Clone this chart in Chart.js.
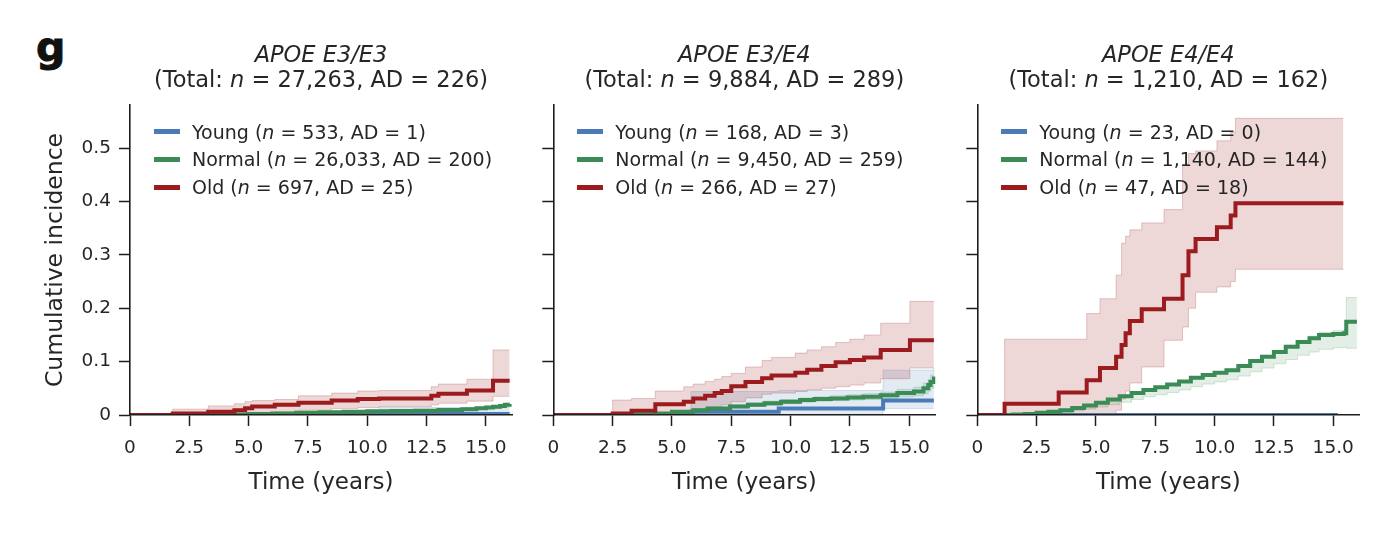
<!DOCTYPE html>
<html><head><meta charset="utf-8">
<script src="https://cdn.jsdelivr.net/npm/chart.js@4.4.1/dist/chart.umd.min.js"></script>
<style>
html,body{margin:0;padding:0;background:#fff;width:1386px;height:538px;overflow:hidden;font-family:"DejaVu Sans",sans-serif;color:#262626}
canvas{position:absolute;left:0;top:0}
.t{position:absolute;text-align:center;white-space:nowrap;font-size:22.5px;line-height:22.5px;width:500px}
.lg{position:absolute;white-space:nowrap;font-size:19px;line-height:19px}
.sw{position:absolute;width:26px;height:5px}
.g{position:absolute;left:36px;top:27px;font-weight:bold;font-size:41px;line-height:41px;color:#111;-webkit-text-stroke:1px #111}
</style></head><body>
<div class="g">g</div>
<canvas id="c1" width="1386" height="538"></canvas>
<canvas id="c2" width="1386" height="538"></canvas>
<canvas id="c3" width="1386" height="538"></canvas>
<div id="txt"></div>
<script>
// ---------- tick labels ----------
const xTickValues = [0, 2.5, 5, 7.5, 10, 12.5, 15];
const xTickLabels = ['0', '2.5', '5.0', '7.5', '10.0', '12.5', '15.0'];
const yTickValues = [0, 0.1, 0.2, 0.3, 0.4, 0.5];
const yTickLabels = ['0', '0.1', '0.2', '0.3', '0.4', '0.5'];
const groupNames = ['Young', 'Normal', 'Old'];
const panelTitles = ['APOE E3/E3', 'APOE E3/E4', 'APOE E4/E4'];
const panelTotalN = ['27,263', '9,884', '1,210'];
const panelTotalAD = ['226', '289', '162'];
const e33GroupN = ['533', '26,033', '697'];
const e33GroupAD = ['1', '200', '25'];
const e34GroupN = ['168', '9,450', '266'];
const e34GroupAD = ['3', '259', '27'];
const e44GroupN = ['23', '1,140', '47'];
const e44GroupAD = ['0', '144', '18'];

// ---------- APOE E3/E3 ----------
const e33OldT  = [0, 1.8, 3.3, 4.4, 4.85, 5.15, 6.1, 7.1, 8.5, 9.6, 10.5, 12.7, 13.0, 14.2, 15.3, 16.0];
const e33OldV  = [0, 0.003, 0.006, 0.009, 0.0125, 0.016, 0.019, 0.023, 0.027, 0.03, 0.031, 0.036, 0.04, 0.046, 0.064, 0.064];
const e33OldHi = [0, 0.011, 0.017, 0.021, 0.025, 0.027, 0.029, 0.036, 0.041, 0.045, 0.046, 0.053, 0.058, 0.067, 0.122, 0.122];
const e33OldLo = [0, 0, 0, 0, 0.001, 0.003, 0.006, 0.009, 0.012, 0.014, 0.016, 0.019, 0.022, 0.026, 0.035, 0.035];
const e33NorT  = [0, 2.5, 4.0, 5.0, 6.0, 7.0, 8.0, 9.0, 10.0, 11.0, 12.0, 13.0, 14.0, 14.6, 15.0, 15.3, 15.6, 15.8, 16.0];
const e33NorV  = [0, 0.0005, 0.001, 0.002, 0.003, 0.004, 0.005, 0.006, 0.007, 0.0075, 0.008, 0.0095, 0.011, 0.0125, 0.014, 0.0155, 0.017, 0.019, 0.0205];
const e33NorHi = [0, 0.001, 0.002, 0.003, 0.004, 0.005, 0.006, 0.007, 0.008, 0.0088, 0.0095, 0.011, 0.013, 0.0145, 0.016, 0.018, 0.02, 0.022, 0.024];
const e33NorLo = [0, 0, 0.0005, 0.0012, 0.002, 0.003, 0.004, 0.005, 0.0058, 0.0063, 0.0068, 0.0082, 0.0093, 0.0105, 0.0118, 0.013, 0.0142, 0.0158, 0.017];
const e33YouT  = [0, 10.5, 16.0];
const e33YouV  = [0, 0.002, 0.002];
const e33YouHi = [0, 0.014, 0.014];
const e33YouLo = [0, 0, 0];

// ---------- APOE E3/E4 ----------
const e34OldT  = [0, 2.5, 3.3, 4.3, 5.5, 5.9, 6.4, 6.8, 7.1, 7.5, 8.1, 8.8, 9.2, 10.2, 10.7, 11.3, 11.9, 12.5, 13.1, 13.8, 15.03, 16.04];
const e34OldV  = [0, 0.003, 0.008, 0.02, 0.025, 0.031, 0.036, 0.041, 0.045, 0.054, 0.062, 0.069, 0.074, 0.079, 0.085, 0.092, 0.099, 0.103, 0.108, 0.122, 0.14, 0.14];
const e34OldHi = [0, 0.028, 0.031, 0.045, 0.053, 0.058, 0.063, 0.067, 0.072, 0.078, 0.09, 0.102, 0.108, 0.116, 0.122, 0.128, 0.136, 0.142, 0.15, 0.172, 0.213, 0.213];
const e34OldLo = [0, 0, 0, 0.001, 0.003, 0.006, 0.01, 0.014, 0.019, 0.025, 0.032, 0.039, 0.041, 0.044, 0.047, 0.05, 0.053, 0.056, 0.06, 0.068, 0.088, 0.088];
const e34NorT  = [0, 3.0, 4.3, 5.0, 5.9, 6.5, 7.45, 8.2, 8.9, 9.6, 10.4, 11.0, 11.7, 12.4, 13.06, 13.8, 14.5, 15.2, 15.6, 15.8, 15.9, 16.04];
const e34NorV  = [0, 0.001, 0.003, 0.006, 0.009, 0.012, 0.016, 0.019, 0.022, 0.025, 0.028, 0.03, 0.031, 0.033, 0.034, 0.037, 0.041, 0.044, 0.05, 0.056, 0.062, 0.072];
const e34NorHi = [0, 0.002, 0.005, 0.008, 0.012, 0.015, 0.019, 0.023, 0.026, 0.029, 0.032, 0.034, 0.036, 0.038, 0.04, 0.043, 0.048, 0.052, 0.06, 0.067, 0.075, 0.088];
const e34NorLo = [0, 0.0003, 0.002, 0.004, 0.007, 0.009, 0.013, 0.016, 0.018, 0.021, 0.024, 0.026, 0.027, 0.028, 0.029, 0.031, 0.034, 0.036, 0.04, 0.045, 0.05, 0.057];
const e34YouT  = [0, 5.8, 9.5, 13.9, 16.04];
const e34YouV  = [0, 0.006, 0.012, 0.027, 0.027];
const e34YouHi = [0, 0.044, 0.046, 0.084, 0.084];
const e34YouLo = [0, 0, 0.001, 0.012, 0.012];

// ---------- APOE E4/E4 ----------
const e44OldT  = [0, 1.15, 3.43, 4.61, 5.17, 5.85, 6.08, 6.25, 6.43, 6.93, 7.87, 8.65, 8.9, 9.2, 10.1, 10.68, 10.88, 15.43];
const e44OldV  = [0, 0.021, 0.042, 0.065, 0.088, 0.109, 0.131, 0.153, 0.176, 0.198, 0.218, 0.262, 0.307, 0.33, 0.352, 0.374, 0.397, 0.397];
const e44OldHi = [0, 0.142, 0.142, 0.19, 0.218, 0.262, 0.322, 0.335, 0.347, 0.36, 0.385, 0.47, 0.49, 0.495, 0.514, 0.53, 0.556, 0.556];
const e44OldLo = [0, 0, 0, 0.001, 0.002, 0.009, 0.03, 0.045, 0.06, 0.09, 0.14, 0.165, 0.2, 0.23, 0.24, 0.25, 0.273, 0.273];
const e44NorT  = [0, 1.0, 1.5, 2.0, 2.5, 3.0, 3.5, 4.0, 4.5, 5.0, 5.5, 6.0, 6.5, 7.0, 7.5, 8.0, 8.5, 9.0, 9.5, 10.0, 10.5, 11.0, 11.5, 12.0, 12.5, 13.0, 13.5, 14.0, 14.4, 15.0, 15.45, 15.55, 16.0];
const e44NorV  = [0, 0, 0.001, 0.002, 0.004, 0.006, 0.009, 0.013, 0.018, 0.023, 0.029, 0.035, 0.041, 0.047, 0.052, 0.057, 0.063, 0.07, 0.075, 0.079, 0.084, 0.092, 0.101, 0.109, 0.118, 0.128, 0.137, 0.144, 0.15, 0.152, 0.153, 0.175, 0.175];
const e44NorHi = [0, 0, 0.002, 0.003, 0.005, 0.007, 0.011, 0.015, 0.02, 0.025, 0.031, 0.037, 0.043, 0.049, 0.054, 0.059, 0.065, 0.072, 0.077, 0.081, 0.086, 0.094, 0.103, 0.112, 0.121, 0.131, 0.14, 0.148, 0.155, 0.158, 0.16, 0.22, 0.22];
const e44NorLo = [0, 0, 0, 0.001, 0.002, 0.003, 0.005, 0.008, 0.011, 0.015, 0.019, 0.024, 0.029, 0.034, 0.038, 0.042, 0.047, 0.053, 0.058, 0.062, 0.066, 0.073, 0.081, 0.088, 0.096, 0.104, 0.112, 0.118, 0.123, 0.126, 0.127, 0.125, 0.125];
const e44YouT  = [0, 15.2];
const e44YouV  = [0, 0];

// ---------- styling ----------
const COL = {
  Young:  {line: '#4a7bb7', band: 'rgba(74,123,183,0.16)', edge: 'rgba(74,123,183,0.22)'},
  Normal: {line: '#3a8b55', band: 'rgba(58,139,85,0.15)', edge: 'rgba(58,139,85,0.2)'},
  Old:    {line: '#9b1b1e', band: 'rgba(160,40,45,0.19)', edge: 'rgba(160,40,45,0.24)'}
};
const FONT = '"DejaVu Sans", sans-serif';
const TXT = '#262626';
const AX = '#1e1e1e';
const XMAX = 16.1, YMAX = 0.581;
const STEP = 'before'; // Chart.js 'before' = value holds from each point until the next one

function pts(t, v) { return t.map((x, i) => ({x: x, y: v[i]})); }

function lineDs(name, t, v, order) {
  return {label: name, data: pts(t, v), borderColor: COL[name].line, borderWidth: 4,
    stepped: STEP, pointRadius: 0, fill: false, order: order, borderCapStyle: 'butt'};
}
function bandDs(name, t, v, fill, order) {
  return {label: name + ' CI', data: pts(t, v), borderColor: COL[name].edge, borderWidth: 1,
    backgroundColor: COL[name].band, stepped: STEP, pointRadius: 0, fill: fill, order: order};
}

function makePanel(id, series, padL, yW, showYLabels) {
  const ds = [];
  const names = ['Old', 'Normal', 'Young'];
  names.forEach((n, k) => { if (series[n]) ds.push(lineDs(n, series[n].t, series[n].v, k)); });
  names.forEach((n, k) => {
    const s = series[n];
    if (s && s.hi) {
      ds.push(bandDs(n, s.t, s.hi, '+1', 10 + 2 * k));
      ds.push(bandDs(n, s.t, s.lo, false, 11 + 2 * k));
    }
  });
  const chartLeft = padL + yW;
  const chartRight = chartLeft + 382;
  return new Chart(document.getElementById(id), {
    type: 'line',
    data: {datasets: ds},
    options: {
      responsive: false, animation: false, devicePixelRatio: 1,
      layout: {padding: {left: padL, right: 1386 - chartRight, top: 105, bottom: 0}},
      plugins: {legend: {display: false}, tooltip: {enabled: false}, filler: {drawTime: 'beforeDatasetsDraw'}},
      scales: {
        x: {
          type: 'linear', min: 0, max: XMAX,
          afterBuildTicks: s => { s.ticks = xTickValues.map(v => ({value: v})); },
          afterFit: s => { s.height = 123; },
          ticks: {autoSkip: false, maxRotation: 0, padding: 11, color: TXT, includeBounds: false,
            font: {family: FONT, size: 18.5},
            callback: v => xTickLabels[xTickValues.indexOf(v)]},
          grid: {drawOnChartArea: false, drawTicks: true, tickLength: 11, tickWidth: 1.5, tickColor: AX},
          border: {display: true, color: AX, width: 1.6, z: 1},
          title: {display: true, text: 'Time (years)', color: TXT, font: {family: FONT, size: 23},
            padding: {top: 0, bottom: 41}}
        },
        y: {
          type: 'linear', min: 0, max: YMAX,
          afterBuildTicks: s => { s.ticks = yTickValues.map(v => ({value: v})); },
          afterFit: s => { s.width = yW; },
          ticks: {padding: 8, color: TXT, includeBounds: false, font: {family: FONT, size: 18.5},
            callback: v => showYLabels ? yTickLabels[yTickValues.indexOf(v)] : ''},
          grid: {drawOnChartArea: false, drawTicks: true, tickLength: 11, tickWidth: 1.5, tickColor: AX},
          border: {display: true, color: AX, width: 1.6, z: 1},
          title: {display: showYLabels, text: 'Cumulative incidence', color: TXT,
            font: {family: FONT, size: 23.5}, padding: {top: 42, bottom: 0}}
        }
      }
    }
  });
}

makePanel('c1', {
  Old: {t: e33OldT, v: e33OldV, hi: e33OldHi, lo: e33OldLo},
  Normal: {t: e33NorT, v: e33NorV, hi: e33NorHi, lo: e33NorLo},
  Young: {t: e33YouT, v: e33YouV, hi: e33YouHi, lo: e33YouLo}
}, 0, 130, true);
makePanel('c2', {
  Old: {t: e34OldT, v: e34OldV, hi: e34OldHi, lo: e34OldLo},
  Normal: {t: e34NorT, v: e34NorV, hi: e34NorHi, lo: e34NorLo},
  Young: {t: e34YouT, v: e34YouV, hi: e34YouHi, lo: e34YouLo}
}, 493.3, 60, false);
makePanel('c3', {
  Old: {t: e44OldT, v: e44OldV, hi: e44OldHi, lo: e44OldLo},
  Normal: {t: e44NorT, v: e44NorV, hi: e44NorHi, lo: e44NorLo},
  Young: {t: e44YouT, v: e44YouV}
}, 917.3, 60, false);

// ---------- HTML titles and legends (real text, italic n) ----------
const axisLeft = [130, 553.3, 977.3];
const groupN = [e33GroupN, e34GroupN, e44GroupN];
const groupAD = [e33GroupAD, e34GroupAD, e44GroupAD];
const legendTop = [122.5, 150.3, 178.2];
let html = '';
panelTitles.forEach((title, p) => {
  const cx = axisLeft[p] + 191;
  html += `<div class="t" style="left:${cx - 250}px;top:43px"><i>${title}</i></div>`;
  html += `<div class="t" style="left:${cx - 250}px;top:68px">(Total: <i>n</i> = ${panelTotalN[p]}, AD = ${panelTotalAD[p]})</div>`;
  groupNames.forEach((g, k) => {
    html += `<div class="sw" style="left:${axisLeft[p] + 24}px;top:${legendTop[k] + 6.8}px;background:${COL[g].line}"></div>`;
    html += `<div class="lg" style="left:${axisLeft[p] + 62}px;top:${legendTop[k]}px">${g} (<i>n</i> = ${groupN[p][k]}, AD = ${groupAD[p][k]})</div>`;
  });
});
document.getElementById('txt').innerHTML = html;
</script>
</body></html>
